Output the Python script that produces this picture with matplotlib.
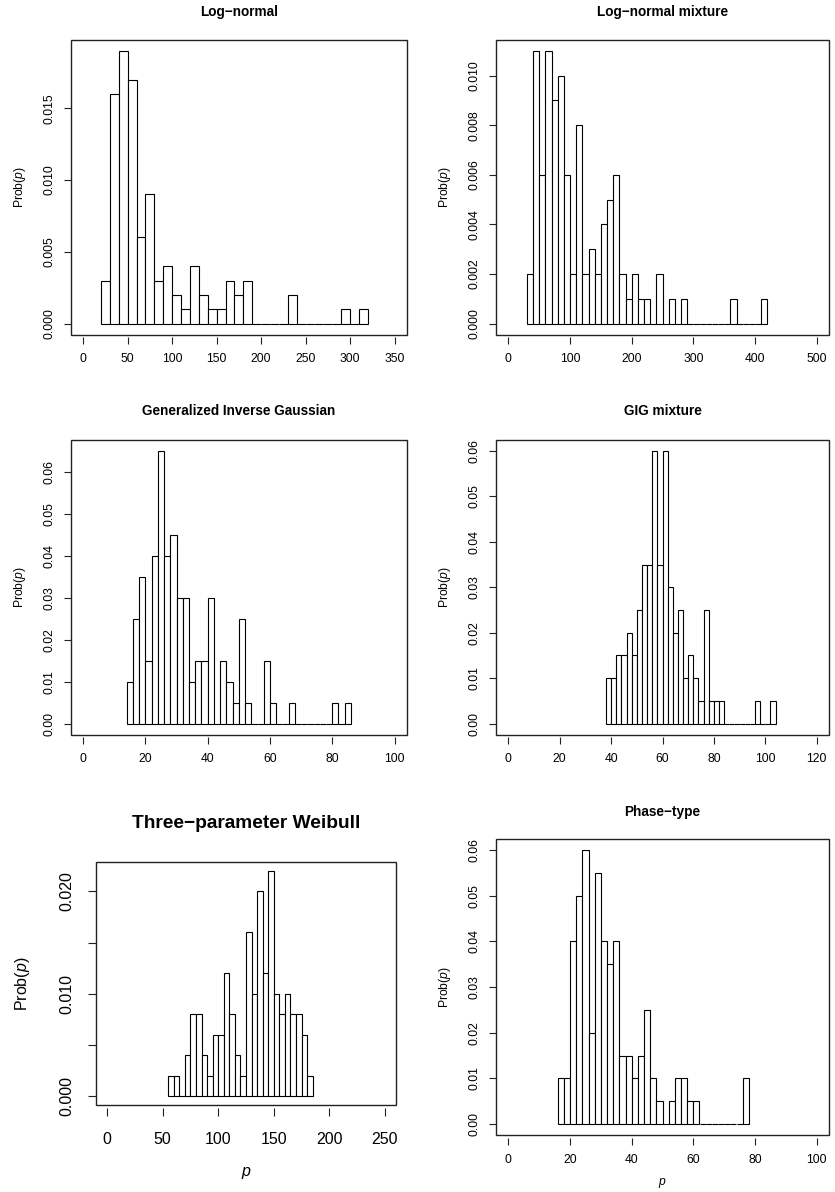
import numpy as np
import matplotlib
matplotlib.use("Agg")
import matplotlib.pyplot as plt
from matplotlib.patches import Rectangle

plt.rcParams['font.family'] = ['Liberation Sans', 'DejaVu Sans']
plt.rcParams['mathtext.fontset'] = 'custom'
plt.rcParams['mathtext.it'] = 'Liberation Sans:italic'
plt.rcParams['mathtext.rm'] = 'Liberation Sans'

# histogram densities (bins start / width / heights)
lognorm_start, lognorm_width = 20, 10
lognorm_dens = [0.003, 0.016, 0.019, 0.017, 0.006, 0.009, 0.003, 0.004, 0.002, 0.001,
                0.004, 0.002, 0.001, 0.001, 0.003, 0.002, 0.003, 0, 0, 0,
                0, 0.002, 0, 0, 0, 0, 0, 0.001, 0, 0.001]

lnmix_start, lnmix_width = 30, 10
lnmix_dens = [0.002, 0.011, 0.006, 0.011, 0.009, 0.010, 0.006, 0.002, 0.008, 0.002,
              0.003, 0.002, 0.004, 0.005, 0.006, 0.002, 0.001, 0.002, 0.001, 0.001,
              0, 0.002, 0, 0.001, 0, 0.001, 0, 0, 0, 0,
              0, 0, 0, 0.001, 0, 0, 0, 0, 0.001]

gig_start, gig_width = 14, 2
gig_dens = [0.010, 0.025, 0.035, 0.015, 0.040, 0.065, 0.040, 0.045, 0.030, 0.030,
            0.010, 0.015, 0.015, 0.030, 0, 0.015, 0.010, 0.005, 0.025, 0.005,
            0, 0, 0.015, 0.005, 0, 0, 0.005, 0, 0, 0,
            0, 0, 0, 0.005, 0, 0.005]

gigmix_start, gigmix_width = 38, 2
gigmix_dens = [0.010, 0.010, 0.015, 0.015, 0.020, 0.015, 0.025, 0.035, 0.035, 0.060,
               0.035, 0.060, 0.030, 0.020, 0.025, 0.010, 0.015, 0.010, 0.005, 0.025,
               0.005, 0.005, 0.005, 0, 0, 0, 0, 0, 0, 0.005,
               0, 0, 0.005]

weib_start, weib_width = 55, 5
weib_dens = [0.002, 0.002, 0, 0.004, 0.008, 0.008, 0.004, 0.002, 0.006, 0.006,
             0.012, 0.008, 0.004, 0.002, 0.016, 0.010, 0.020, 0.012, 0.022, 0.010,
             0.008, 0.010, 0.008, 0.008, 0.006, 0.002]

ph_start, ph_width = 16, 2
ph_dens = [0.010, 0.010, 0.040, 0.050, 0.060, 0.020, 0.055, 0.040, 0.035, 0.040,
           0.015, 0.015, 0.010, 0.015, 0.025, 0.010, 0.005, 0, 0.005, 0.010,
           0.010, 0.005, 0.005, 0, 0, 0, 0, 0, 0, 0,
           0.010]

W, H = 835, 1192
fig = plt.figure(figsize=(W / 100, H / 100), dpi=100)


def px_rect(l, t, r, b):
    return [l / W, 1 - b / H, (r - l) / W, (b - t) / H]


def panel(box, title, title_y, start, width, dens, xticks, yticks, ylabs,
          big=False, xlab_y=None):
    l, t, r, b = box
    ax = fig.add_axes(px_rect(l, t, r, b))
    edges = start + width * np.arange(len(dens))
    ax.bar(edges, dens, width=width, align='edge', facecolor='white',
           edgecolor='black', linewidth=0.8)
    xmax = xticks[-1]
    ymax = max(dens)
    ax.set_xlim(-0.04 * xmax, 1.04 * xmax)
    ax.set_ylim(-0.04 * ymax, 1.04 * ymax)
    for s in ax.spines.values():
        s.set_visible(False)
    ax.add_patch(Rectangle((0, 0), 1, 1, transform=ax.transAxes, fill=False,
                           lw=1.0, edgecolor='#222222', clip_on=False))
    ax.spines['bottom'].set_position(('outward', 1.8))
    fs = 11.5 if big else 8.7
    tl = 6.0 if big else 4.8
    ax.set_xticks(xticks)
    ax.set_xticklabels([str(v) for v in xticks])
    ax.set_yticks(yticks)
    ax.set_yticklabels(ylabs)
    ax.tick_params(axis='x', length=tl, width=0.8, color='#222222',
                   labelsize=fs, pad=11.5 if big else 7)
    ax.tick_params(axis='y', length=tl, width=0.8, color='#222222',
                   labelsize=fs, pad=9.4 if big else 6.5, labelrotation=90)
    for lab in ax.get_yticklabels():
        lab.set_va('center')
    cx = (l + r) / 2
    fig.text(cx / W, 1 - title_y / H, title, ha='center', va='center',
             fontsize=13.8 if big else 9.8, fontweight='bold')
    fig.text((l - (73.5 if big else 51)) / W, 1 - (t + b) / 2 / H, 'Prob($p$)',
             rotation=90, ha='center', va='center', fontsize=fs)
    if xlab_y is not None:
        fig.text(cx / W, 1 - xlab_y / H, '$p$', ha='center', va='center',
                 fontsize=fs)
    return ax


panel((70.7, 40, 407, 334.5), 'Log\u2212normal', 12,
      lognorm_start, lognorm_width, lognorm_dens,
      [0, 50, 100, 150, 200, 250, 300, 350],
      [0, 0.005, 0.010, 0.015], ['0.000', '0.005', '0.010', '0.015'])

panel((496, 40, 829, 334.5), 'Log\u2212normal mixture', 12,
      lnmix_start, lnmix_width, lnmix_dens,
      [0, 100, 200, 300, 400, 500],
      [0, 0.002, 0.004, 0.006, 0.008, 0.010],
      ['0.000', '0.002', '0.004', '0.006', '0.008', '0.010'])

panel((70.7, 440, 407, 734.5), 'Generalized Inverse Gaussian', 411,
      gig_start, gig_width, gig_dens,
      [0, 20, 40, 60, 80, 100],
      [0, 0.01, 0.02, 0.03, 0.04, 0.05, 0.06],
      ['0.00', '0.01', '0.02', '0.03', '0.04', '0.05', '0.06'])

panel((496, 440, 829, 734.5), 'GIG mixture', 411,
      gigmix_start, gigmix_width, gigmix_dens,
      [0, 20, 40, 60, 80, 100, 120],
      [0, 0.01, 0.02, 0.03, 0.04, 0.05, 0.06],
      ['0.00', '0.01', '0.02', '0.03', '0.04', '0.05', '0.06'])

panel((96, 862, 396, 1105), 'Three\u2212parameter Weibull', 823,
      weib_start, weib_width, weib_dens,
      [0, 50, 100, 150, 200, 250],
      [0, 0.005, 0.010, 0.015, 0.020],
      ['0.000', '', '0.010', '', '0.020'], big=True, xlab_y=1173)

panel((496, 839, 829, 1135), 'Phase\u2212type', 812,
      ph_start, ph_width, ph_dens,
      [0, 20, 40, 60, 80, 100],
      [0, 0.01, 0.02, 0.03, 0.04, 0.05, 0.06],
      ['0.00', '0.01', '0.02', '0.03', '0.04', '0.05', '0.06'], xlab_y=1183)

fig.savefig('out.png', dpi=100)
